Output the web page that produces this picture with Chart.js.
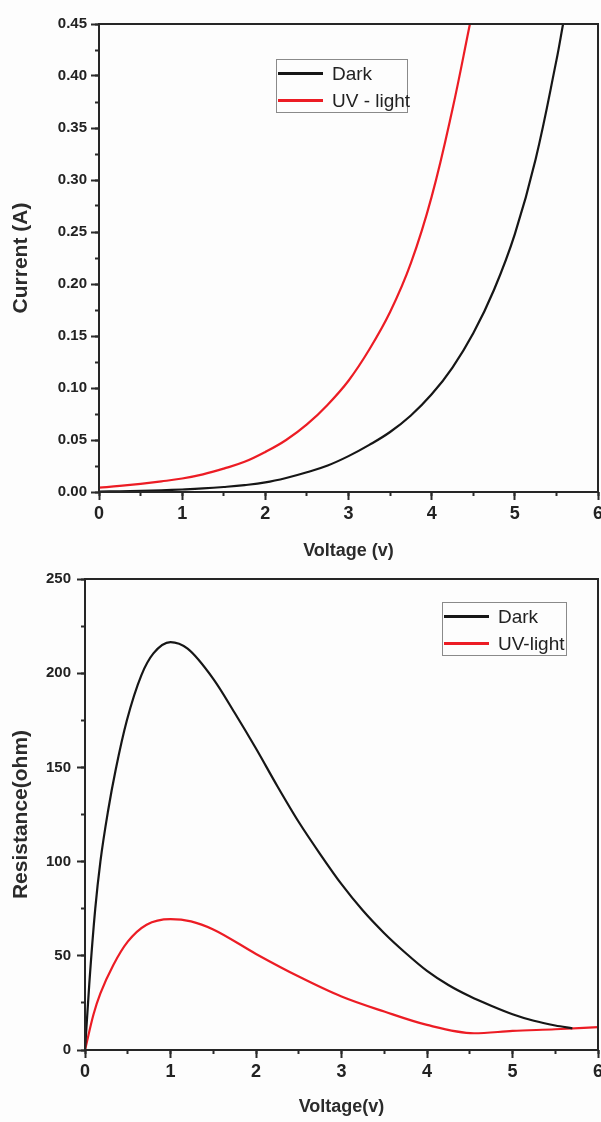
<!DOCTYPE html>
<html>
<head>
  <title>I-V and Resistance Curves</title>
  <script src="https://cdn.jsdelivr.net/npm/chart.js@4.4.1/dist/chart.umd.min.js"></script>
  <style>
    html, body {
      margin: 0;
      padding: 0;
      overflow: hidden;
      background: #fdfdfd;
    }
    body {
      position: relative;
      width: 601px;
      height: 1122px;
      font-family: "Liberation Sans", Arial, sans-serif;
    }
    canvas {
      position: absolute;
      left: 0;
    }
    #ivChart { top: 0; }
    #resChart { top: 566px; }
    .legend {
      position: absolute;
      box-sizing: border-box;
      border: 1px solid #8a8a8a;
      color: #222;
      font-size: 19px;
      white-space: nowrap;
    }
    .legend-row {
      display: flex;
      align-items: center;
      height: 27px;
    }
    .legend-line {
      width: 45px;
      height: 3px;
      margin-left: 1px;
      margin-right: 9px;
      flex: none;
    }
  </style>
</head>
<body>
  <canvas id="ivChart" width="610" height="566"></canvas>
  <canvas id="resChart" width="610" height="556"></canvas>

  <script>
    // I-V curve, dark
    const ivDarkVolts   = [0, 0.25, 0.5, 0.75, 1, 1.25, 1.5, 1.75, 2, 2.25, 2.5, 2.75, 3, 3.25, 3.5, 3.75, 4, 4.25, 4.5, 4.75, 5, 5.25, 5.5, 5.58];
    const ivDarkCurrent = [0.0005, 0.0007, 0.001, 0.0016, 0.0024, 0.0034, 0.0048, 0.0066, 0.0092, 0.0135, 0.019, 0.0255, 0.0345, 0.0453, 0.0577, 0.0736, 0.0939, 0.1197, 0.1526, 0.1945, 0.248, 0.320, 0.415, 0.45];
    // I-V curve, UV light
    const ivUvVolts   = [0, 0.25, 0.5, 0.75, 1, 1.25, 1.5, 1.75, 2, 2.25, 2.5, 2.75, 3, 3.25, 3.5, 3.75, 4, 4.25, 4.46];
    const ivUvCurrent = [0.0042, 0.0058, 0.0078, 0.0102, 0.013, 0.017, 0.0225, 0.029, 0.0385, 0.050, 0.065, 0.084, 0.107, 0.137, 0.173, 0.220, 0.284, 0.368, 0.45];

    // Resistance vs voltage, dark
    const resDarkVolts = [0, 0.05, 0.12, 0.18, 0.27, 0.36, 0.49, 0.66, 0.8, 1, 1.2, 1.5, 1.75, 2, 2.25, 2.5, 2.75, 3, 3.25, 3.5, 3.75, 4, 4.25, 4.5, 4.75, 5, 5.25, 5.5, 5.7];
    const resDarkOhm   = [0, 35, 75, 100, 127, 149, 175, 199, 210.5, 216.5, 213, 197, 179, 160, 140, 121, 104, 88, 74, 62, 51.5, 42, 34.5, 28.5, 23.5, 19, 15.5, 13, 11.5];
    // Resistance vs voltage, UV light
    const resUvVolts = [0, 0.1, 0.18, 0.33, 0.5, 0.72, 1, 1.24, 1.5, 2, 2.5, 3, 3.5, 4, 4.55, 5, 5.5, 6];
    const resUvOhm   = [0, 19, 30, 45, 57.5, 66.5, 69.5, 68.3, 64, 51, 39, 28.4, 20.4, 13.3, 8.9, 10.1, 11, 12.1];

    const FONT = '"Liberation Sans", Arial, sans-serif';
    const INK = '#222';

    const toPoints = (xs, ys) => xs.map((x, i) => ({ x: x, y: ys[i] }));

    // drop the automatic label overflow padding so the plot box sits where we want it
    const noPad = s => {
      s.paddingLeft = 0;
      s.paddingRight = 0;
      s.paddingTop = 0;
      s.paddingBottom = 0;
    };

    // box around the plot area
    const frame = {
      id: 'frame',
      afterDatasetsDraw(chart) {
        const { ctx, chartArea: a } = chart;
        ctx.save();
        ctx.strokeStyle = '#262626';
        ctx.lineWidth = 2;
        ctx.strokeRect(a.left, a.top, a.right - a.left, a.bottom - a.top);
        ctx.restore();
      }
    };

    function makeScales(o) {
      const tickGrid = len => ({
        drawOnChartArea: false,
        tickLength: len,
        tickWidth: 2,
        tickColor: '#2a2a2a'
      });
      return {
        x: {
          type: 'linear', position: 'bottom', weight: 1, min: 0, max: 6,
          ticks: { stepSize: 1, padding: 3, color: INK, font: { family: FONT, size: 18, weight: 'bold' } },
          grid: tickGrid(8),
          border: { display: false },
          title: { display: true, text: o.xTitle, color: '#2b2b2b', padding: { top: 4, bottom: 4 },
                   font: { family: FONT, size: 18, weight: 'bold' } },
          afterFit: s => { noPad(s); s.height = o.xHeight; }
        },
        xMinor: {
          type: 'linear', position: 'bottom', weight: 0, min: 0, max: 6,
          ticks: { display: false, stepSize: 0.5 },
          grid: tickGrid(4),
          border: { display: false },
          afterFit: s => { noPad(s); s.height = 0; }
        },
        y: {
          type: 'linear', position: 'left', weight: 1, min: 0, max: o.yMax,
          ticks: { stepSize: o.yStep, padding: o.yPad, color: INK, callback: o.yFormat,
                   font: { family: FONT, size: 15, weight: 'bold' } },
          grid: tickGrid(8),
          border: { display: false },
          title: { display: true, text: o.yTitle, color: '#2b2b2b', padding: { top: 9, bottom: 4 },
                   font: { family: FONT, size: 21, weight: 'bold' } },
          afterFit: s => { noPad(s); s.width = o.yWidth; }
        },
        yMinor: {
          type: 'linear', position: 'left', weight: 0, min: 0, max: o.yMax,
          ticks: { display: false, stepSize: o.yStep / 2 },
          grid: tickGrid(4),
          border: { display: false },
          afterFit: s => { noPad(s); s.width = 0; }
        }
      };
    }

    function lineSet(label, color, xs, ys, smooth) {
      return {
        label: label,
        data: toPoints(xs, ys),
        borderColor: color,
        backgroundColor: color,
        borderWidth: 2.2,
        pointRadius: 0,
        tension: 0.4,
        cubicInterpolationMode: smooth,
        xAxisID: 'x',
        yAxisID: 'y'
      };
    }

    function baseOptions(scales, padding) {
      return {
        responsive: false,
        animation: false,
        layout: { padding: padding },
        plugins: { legend: { display: false }, tooltip: { enabled: false } },
        scales: scales
      };
    }

    // legend box built from the datasets themselves
    function buildLegend(chart, box, canvasTop) {
      const el = document.createElement('div');
      el.className = 'legend';
      el.style.left = box.left + 'px';
      el.style.top = (canvasTop + box.top) + 'px';
      el.style.width = box.width + 'px';
      el.style.height = box.height + 'px';
      chart.data.datasets.forEach(ds => {
        const row = document.createElement('div');
        row.className = 'legend-row';
        const line = document.createElement('span');
        line.className = 'legend-line';
        line.style.background = ds.borderColor;
        const text = document.createElement('span');
        text.textContent = ds.label;
        row.appendChild(line);
        row.appendChild(text);
        el.appendChild(row);
      });
      document.body.appendChild(el);
    }

    const ivChart = new Chart(document.getElementById('ivChart'), {
      type: 'line',
      data: {
        datasets: [
          lineSet('Dark', '#161616', ivDarkVolts, ivDarkCurrent, 'default'),
          lineSet('UV - light', '#ec1c24', ivUvVolts, ivUvCurrent, 'default')
        ]
      },
      options: baseOptions(makeScales({
        xTitle: 'Voltage (v)', xHeight: 74,
        yTitle: 'Current (A)', yWidth: 99, yMax: 0.45, yStep: 0.05, yPad: 4,
        yFormat: v => v.toFixed(2)
      }), { top: 24, right: 12, bottom: 0, left: 0 }),
      plugins: [frame]
    });

    const resChart = new Chart(document.getElementById('resChart'), {
      type: 'line',
      data: {
        datasets: [
          lineSet('Dark', '#161616', resDarkVolts, resDarkOhm, 'monotone'),
          lineSet('UV-light', '#ec1c24', resUvVolts, resUvOhm, 'monotone')
        ]
      },
      options: baseOptions(makeScales({
        xTitle: 'Voltage(v)', xHeight: 72,
        yTitle: 'Resistance(ohm)', yWidth: 85, yMax: 250, yStep: 50, yPad: 6,
        yFormat: v => String(v)
      }), { top: 13, right: 12, bottom: 0, left: 0 }),
      plugins: [frame]
    });

    buildLegend(ivChart, { left: 276, top: 59, width: 132, height: 54 }, 0);
    buildLegend(resChart, { left: 442, top: 36, width: 125, height: 54 }, 566);
  </script>
</body>
</html>
